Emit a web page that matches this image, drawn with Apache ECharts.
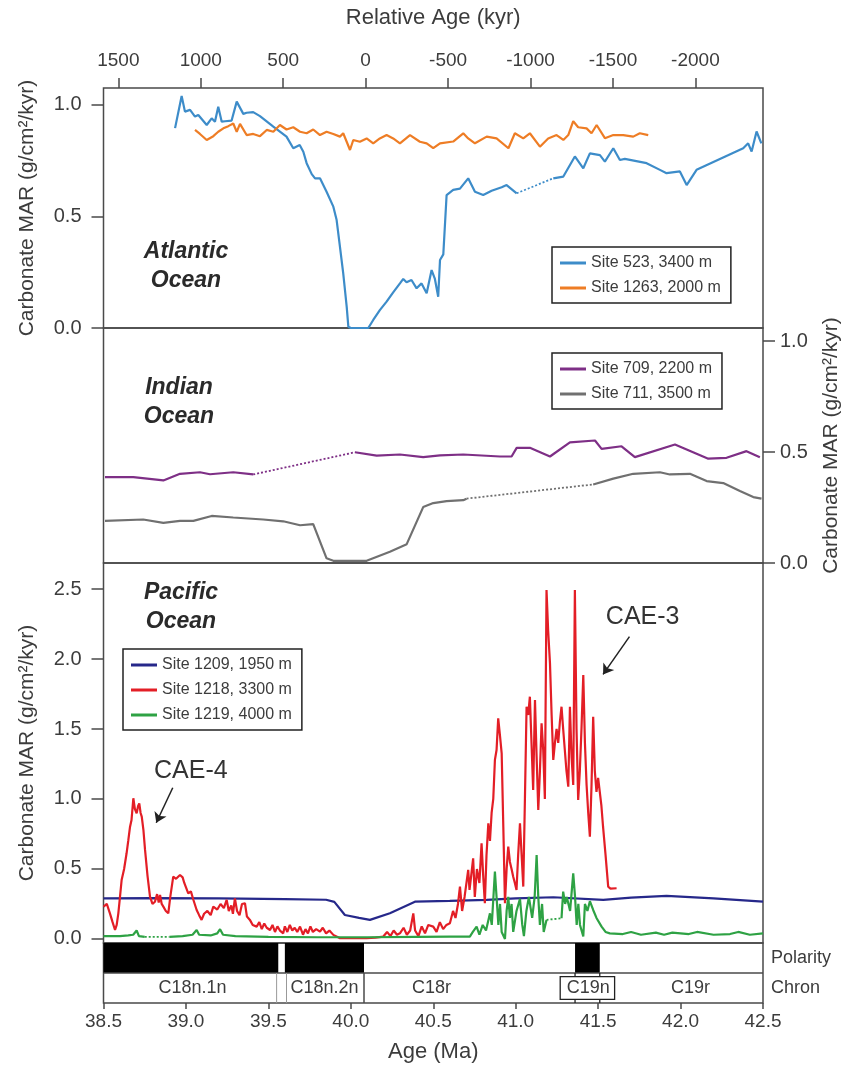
<!DOCTYPE html>
<html>
<head>
<meta charset="utf-8">
<script src="https://cdn.jsdelivr.net/npm/echarts@6/dist/echarts.min.js"></script>
<style>
html, body { margin: 0; padding: 0; background: #fff; }
#main { width: 848px; height: 1066px; }
</style>
</head>
<body>
<div id="main"></div>
<script>
// age axis (Ma) and relative age ticks (kyr, 0 at the base of C18r)
var ageTicks = [38.5, 39.0, 39.5, 40.0, 40.5, 41.0, 41.5, 42.0, 42.5];
var relAgeTicks = [1500, 1000, 500, 0, -500, -1000, -1500, -2000];
var relAgeZero = 40.09;

// Atlantic Ocean
var site523 = [[38.934,0.896],[38.974,1.04],[38.994,0.97],[39.025,0.978],[39.055,0.948],[39.075,0.955],[39.126,0.91],[39.156,0.94],[39.176,0.925],[39.196,0.992],[39.217,0.925],[39.237,0.927],[39.277,0.93],[39.308,1.015],[39.348,0.96],[39.368,0.965],[39.408,0.968],[39.449,0.95],[39.53,0.903],[39.61,0.858],[39.651,0.806],[39.69,0.82],[39.712,0.79],[39.732,0.739],[39.763,0.69],[39.783,0.671],[39.813,0.671],[39.853,0.611],[39.894,0.544],[39.914,0.484],[39.934,0.365],[39.954,0.245],[39.975,0.096],[39.985,0.006],[40.0,0],[40.106,0],[40.136,0.036],[40.176,0.08],[40.217,0.118],[40.257,0.16],[40.298,0.2],[40.318,0.22],[40.338,0.205],[40.368,0.215],[40.399,0.178],[40.429,0.2],[40.46,0.156],[40.49,0.26],[40.51,0.22],[40.53,0.14],[40.541,0.305],[40.561,0.33],[40.581,0.596],[40.621,0.619],[40.662,0.625],[40.712,0.671],[40.753,0.611],[40.803,0.596],[40.854,0.615],[40.915,0.631],[40.945,0.641],[41.006,0.604],[41.1,null],[41.228,0.671],[41.289,0.679],[41.359,0.769],[41.41,0.716],[41.45,0.783],[41.511,0.775],[41.541,0.746],[41.592,0.806],[41.632,0.753],[41.662,0.758],[41.794,0.739],[41.875,0.709],[41.915,0.694],[41.996,0.702],[42.037,0.641],[42.097,0.709],[42.38,0.806],[42.41,0.828],[42.431,0.791],[42.461,0.881],[42.49,0.828]];
var site1263 = [[39.055,0.888],[39.085,0.87],[39.126,0.843],[39.166,0.86],[39.196,0.88],[39.227,0.895],[39.257,0.905],[39.287,0.917],[39.308,0.88],[39.328,0.915],[39.368,0.865],[39.408,0.87],[39.449,0.86],[39.49,0.888],[39.53,0.88],[39.57,0.91],[39.61,0.89],[39.651,0.9],[39.692,0.88],[39.732,0.873],[39.772,0.89],[39.813,0.865],[39.853,0.88],[39.894,0.87],[39.934,0.858],[39.954,0.873],[39.975,0.835],[39.995,0.798],[40.015,0.843],[40.055,0.835],[40.096,0.85],[40.136,0.828],[40.176,0.85],[40.217,0.865],[40.257,0.85],[40.298,0.828],[40.359,0.865],[40.419,0.835],[40.46,0.828],[40.5,0.806],[40.541,0.828],[40.621,0.836],[40.682,0.873],[40.712,0.85],[40.753,0.828],[40.824,0.858],[40.884,0.85],[40.956,0.806],[40.995,0.873],[41.046,0.85],[41.086,0.873],[41.147,0.813],[41.197,0.85],[41.248,0.865],[41.289,0.843],[41.319,0.865],[41.349,0.927],[41.379,0.9],[41.43,0.895],[41.46,0.873],[41.491,0.91],[41.541,0.851],[41.592,0.865],[41.652,0.865],[41.713,0.858],[41.753,0.873],[41.804,0.865]];

// Indian Ocean
var site709 = [[38.509,0.387],[38.681,0.387],[38.863,0.372],[38.964,0.402],[39.085,0.409],[39.146,0.4],[39.287,0.409],[39.408,0.399],[39.7,null],[40.025,0.499],[40.157,0.484],[40.298,0.489],[40.439,0.477],[40.541,0.485],[40.682,0.489],[40.905,0.48],[40.975,0.48],[41.006,0.519],[41.086,0.519],[41.208,0.48],[41.329,0.544],[41.481,0.552],[41.521,0.514],[41.642,0.526],[41.723,0.477],[41.966,0.534],[42.168,0.47],[42.279,0.474],[42.4,0.504],[42.481,0.477]];
var site711 = [[38.509,0.19],[38.741,0.196],[38.863,0.181],[38.964,0.19],[39.045,0.19],[39.156,0.212],[39.287,0.205],[39.469,0.196],[39.59,0.188],[39.692,0.17],[39.772,0.175],[39.853,0.021],[39.894,0.01],[40.096,0.01],[40.237,0.051],[40.339,0.085],[40.439,0.252],[40.5,0.27],[40.581,0.279],[40.682,0.283],[40.702,0.29],[41.1,null],[41.47,0.354],[41.592,0.38],[41.713,0.402],[41.875,0.409],[41.935,0.399],[42.057,0.402],[42.158,0.369],[42.259,0.36],[42.36,0.324],[42.441,0.297],[42.491,0.29]];

// Pacific Ocean
var site1209 = [[38.5,0.29],[38.8,0.292],[39.2,0.29],[39.6,0.285],[39.85,0.28],[39.9,0.265],[39.964,0.171],[40.05,0.15],[40.116,0.136],[40.237,0.184],[40.389,0.266],[40.6,0.272],[40.824,0.279],[41.0,0.29],[41.228,0.298],[41.531,0.279],[41.7,0.295],[41.915,0.307],[42.2,0.29],[42.5,0.266]];
var site1218 = [[38.5,0.23],[38.52,0.25],[38.539,0.183],[38.555,0.12],[38.57,0.064],[38.58,0.1],[38.59,0.183],[38.6,0.3],[38.61,0.421],[38.625,0.5],[38.64,0.612],[38.65,0.7],[38.661,0.802],[38.67,0.85],[38.681,1.005],[38.69,0.93],[38.701,0.898],[38.71,0.95],[38.717,0.969],[38.725,0.9],[38.732,0.874],[38.742,0.78],[38.752,0.636],[38.767,0.45],[38.782,0.302],[38.797,0.25],[38.812,0.266],[38.825,0.32],[38.835,0.26],[38.843,0.314],[38.853,0.25],[38.863,0.231],[38.878,0.2],[38.893,0.183],[38.905,0.3],[38.923,0.445],[38.94,0.43],[38.964,0.457],[38.98,0.44],[38.99,0.4],[39.014,0.326],[39.03,0.34],[39.045,0.28],[39.065,0.207],[39.08,0.17],[39.095,0.136],[39.11,0.18],[39.13,0.2],[39.15,0.17],[39.166,0.231],[39.19,0.21],[39.21,0.25],[39.23,0.22],[39.247,0.279],[39.26,0.2],[39.275,0.24],[39.285,0.18],[39.297,0.29],[39.31,0.2],[39.325,0.17],[39.34,0.25],[39.358,0.255],[39.37,0.16],[39.388,0.136],[39.405,0.1],[39.429,0.088],[39.445,0.12],[39.46,0.07],[39.475,0.11],[39.49,0.08],[39.51,0.064],[39.525,0.1],[39.54,0.05],[39.555,0.09],[39.57,0.06],[39.59,0.04],[39.6,0.09],[39.615,0.05],[39.63,0.1],[39.645,0.06],[39.66,0.08],[39.675,0.05],[39.692,0.088],[39.71,0.03],[39.725,0.07],[39.74,0.04],[39.755,0.09],[39.77,0.05],[39.79,0.07],[39.813,0.052],[39.83,0.08],[39.85,0.04],[39.87,0.06],[39.894,0.029],[39.91,0.02],[39.934,0.005],[40.0,0.005],[40.096,0.005],[40.15,0.01],[40.197,0.017],[40.22,0.05],[40.24,0.02],[40.26,0.06],[40.28,0.03],[40.298,0.04],[40.32,0.08],[40.34,0.03],[40.36,0.06],[40.379,0.183],[40.39,0.06],[40.41,0.02],[40.43,0.09],[40.45,0.04],[40.47,0.1],[40.5,0.088],[40.52,0.05],[40.54,0.12],[40.56,0.07],[40.58,0.1],[40.601,0.112],[40.62,0.2],[40.635,0.15],[40.65,0.25],[40.662,0.374],[40.675,0.2],[40.69,0.3],[40.712,0.493],[40.72,0.35],[40.73,0.45],[40.742,0.576],[40.752,0.3],[40.765,0.5],[40.78,0.4],[40.793,0.683],[40.803,0.45],[40.813,0.255],[40.823,0.6],[40.834,0.826],[40.844,0.7],[40.854,0.9],[40.864,1.0],[40.874,1.279],[40.884,1.35],[40.894,1.576],[40.905,1.45],[40.915,1.326],[40.925,0.8],[40.935,0.255],[40.945,0.5],[40.955,0.659],[40.965,0.55],[40.975,0.5],[40.985,0.445],[40.995,0.4],[41.005,0.35],[41.015,0.6],[41.026,0.826],[41.036,0.6],[41.046,0.374],[41.056,1.0],[41.066,1.659],[41.076,1.6],[41.086,1.731],[41.096,1.4],[41.106,1.064],[41.117,1.707],[41.127,1.3],[41.137,0.921],[41.147,1.2],[41.157,1.54],[41.167,1.35],[41.177,1.0],[41.187,2.493],[41.197,2.2],[41.208,1.969],[41.218,1.6],[41.228,1.279],[41.238,1.4],[41.248,1.5],[41.258,1.4],[41.268,1.55],[41.278,1.659],[41.288,1.5],[41.298,1.35],[41.308,1.2],[41.319,1.088],[41.329,1.659],[41.339,1.3],[41.349,1.1],[41.359,2.493],[41.369,1.5],[41.379,0.993],[41.389,1.2],[41.399,1.5],[41.41,1.886],[41.42,1.4],[41.43,1.1],[41.44,0.9],[41.45,0.731],[41.46,1.1],[41.47,1.588],[41.48,1.2],[41.49,1.05],[41.5,1.15],[41.511,1.159],[41.52,0.95],[41.53,0.8],[41.545,0.6],[41.561,0.374],[41.575,0.36],[41.612,0.362]];
var site1219 = [[38.5,0.02],[38.6,0.02],[38.65,0.025],[38.68,0.03],[38.701,0.06],[38.715,0.02],[38.75,0.015],[38.8,null],[38.9,0.015],[38.98,0.02],[39.04,0.03],[39.065,0.064],[39.08,0.03],[39.15,0.025],[39.19,0.04],[39.207,0.07],[39.225,0.03],[39.3,0.02],[39.5,0.015],[39.8,0.012],[40.1,0.012],[40.4,0.015],[40.6,0.017],[40.722,0.017],[40.74,0.05],[40.763,0.088],[40.78,0.03],[40.8,0.1],[40.82,0.06],[40.844,0.183],[40.855,0.1],[40.874,0.481],[40.884,0.3],[40.895,0.1],[40.905,0.25],[40.915,0.05],[40.935,0.0],[40.945,0.2],[40.955,0.3],[40.965,0.15],[40.975,0.25],[40.985,0.05],[41.005,0.2],[41.026,0.286],[41.04,0.1],[41.05,0.02],[41.065,0.2],[41.08,0.3],[41.1,0.15],[41.115,0.3],[41.127,0.6],[41.137,0.3],[41.147,0.1],[41.16,0.25],[41.17,0.05],[41.187,0.136],[41.23,null],[41.278,0.148],[41.288,0.338],[41.3,0.25],[41.31,0.3],[41.33,0.2],[41.349,0.469],[41.36,0.3],[41.37,0.1],[41.38,0.25],[41.39,0.1],[41.41,0.017],[41.42,0.25],[41.435,0.2],[41.45,0.27],[41.47,0.207],[41.49,0.15],[41.521,0.088],[41.545,0.05],[41.571,0.04],[41.65,0.035],[41.7,0.05],[41.76,0.03],[41.85,0.045],[41.9,0.03],[41.95,0.045],[42.05,0.035],[42.1,0.05],[42.2,0.03],[42.3,0.035],[42.35,0.05],[42.42,0.03],[42.5,0.04]];

// magnetic polarity (normal intervals) and chrons
var normalStart = [38.5, 39.60, 41.36];
var normalEnd = [39.56, 40.08, 41.51];
var chronNames = ['C18n.1n', 'C18n.2n', 'C18r', 'C19n', 'C19r'];
var chronLabelAt = [39.04, 39.84, 40.49, 41.44, 42.06];
var chronBounds = [39.55, 39.61, 40.08];
var c19nBox = [41.27, 41.60];

// annotations
var annotations = [
    { text: 'CAE-4', at: [39.03, 1.2], from: [38.92, 1.08], to: [38.82, 0.83] },
    { text: 'CAE-3', at: [41.77, 2.3], from: [41.69, 2.16], to: [41.53, 1.89] }
];

var font = '"Liberation Sans", Arial, Helvetica, sans-serif';
var textColor = '#3c3c3c';
var frameColor = '#4a4a4a';

function gapLinks(data) {
    var out = [];
    for (var i = 1; i < data.length - 1; i++) {
        if (data[i][1] === null) {
            if (out.length) out.push([data[i - 1][0], null]);
            out.push(data[i - 1], data[i + 1]);
        }
    }
    return out;
}

function fmt1(v) { return (Math.round(v * 10) / 10).toFixed(1); }

var relAgePos = relAgeTicks.map(function (r) { return relAgeZero - r / 1000; });

var chartDom = document.getElementById('main');
var myChart = echarts.init(chartDom);

var gridBase = {
    left: 103.5, right: 85, show: true, borderColor: frameColor, borderWidth: 1.5,
    backgroundColor: 'transparent', containLabel: false, outerBoundsMode: 'none'
};

function hiddenX(idx) {
    return { type: 'value', gridIndex: idx, min: 38.5, max: 42.5, show: false };
}

function marAxis(idx, pos, max, min, labels, gap) {
    return {
        type: 'value', gridIndex: idx, position: pos, min: min, max: max,
        name: 'Carbonate MAR (g/cm²/kyr)', nameLocation: 'middle', nameGap: gap, nameRotate: 90,
        nameTextStyle: { fontSize: 21, color: textColor, fontFamily: font },
        axisLine: { show: false, onZero: false },
        axisTick: { show: true, inside: false, length: 12, customValues: labels, lineStyle: { color: frameColor, width: 1.5 } },
        axisLabel: { customValues: labels, formatter: fmt1, fontSize: 20, color: textColor, fontFamily: font, margin: pos === 'left' ? 22 : 17 },
        splitLine: { show: false }
    };
}

function lineSeries(name, data, color, xi, yi) {
    return {
        name: name, type: 'line', data: data, xAxisIndex: xi, yAxisIndex: yi,
        showSymbol: false, symbol: 'none', connectNulls: false,
        lineStyle: { color: color, width: 2.2 }, itemStyle: { color: color }, z: 3
    };
}

function gapSeries(data, color, xi, yi) {
    return {
        type: 'line', data: gapLinks(data), xAxisIndex: xi, yAxisIndex: yi,
        showSymbol: false, symbol: 'none', connectNulls: false, silent: true,
        lineStyle: { color: color, width: 1.8, type: [2, 2] }, z: 2
    };
}

var legendBase = {
    orient: 'vertical', icon: 'rect', itemWidth: 26, itemHeight: 3, itemGap: 9,
    borderColor: '#222', borderWidth: 1.5, padding: [8, 10, 7, 8],
    textStyle: { fontSize: 16, color: textColor, fontFamily: font },
    backgroundColor: '#fff', selectedMode: false
};

var colors = {
    s523: '#3d8cc9', s1263: '#ee7d25', s709: '#7e2f86', s711: '#707070',
    s1209: '#26288a', s1218: '#e31e26', s1219: '#2ea244'
};

var option = {
    animation: false,
    textStyle: { fontFamily: font },
    grid: [
        Object.assign({ top: 88, height: 240 }, gridBase),
        Object.assign({ top: 328, height: 235 }, gridBase),
        Object.assign({ top: 563, height: 380 }, gridBase),
        Object.assign({ top: 943, height: 60 }, gridBase)
    ],
    xAxis: [
        {
            type: 'value', gridIndex: 0, position: 'top', min: 38.5, max: 42.5,
            name: 'Relative Age (kyr)', nameLocation: 'middle', nameGap: 59,
            nameTextStyle: { fontSize: 22, color: textColor, fontFamily: font },
            axisLine: { show: false, onZero: false },
            axisTick: { show: true, length: 10, customValues: relAgePos, lineStyle: { color: frameColor, width: 1.5 } },
            axisLabel: {
                customValues: relAgePos, fontSize: 19, color: textColor, fontFamily: font, margin: 18,
                formatter: function (v) { return String(Math.round((relAgeZero - v) * 1000)); }
            },
            splitLine: { show: false }
        },
        hiddenX(1),
        hiddenX(2),
        {
            type: 'value', gridIndex: 3, position: 'bottom', min: 38.5, max: 42.5,
            name: 'Age (Ma)', nameLocation: 'middle', nameGap: 38,
            nameTextStyle: { fontSize: 22, color: textColor, fontFamily: font },
            axisLine: { show: false, onZero: false },
            axisTick: { show: true, length: 6, customValues: ageTicks, lineStyle: { color: frameColor, width: 1.5 } },
            axisLabel: { customValues: ageTicks, formatter: fmt1, fontSize: 19, color: textColor, fontFamily: font, margin: 9 },
            splitLine: { show: false }
        }
    ],
    yAxis: [
        marAxis(0, 'left', 1.076, 0, [0, 0.5, 1.0], 66),
        marAxis(1, 'right', 1.059, 0, [0, 0.5, 1.0], 58),
        marAxis(2, 'left', 2.686, -0.029, [0, 0.5, 1.0, 1.5, 2.0, 2.5], 66),
        {
            type: 'value', gridIndex: 3, position: 'right', min: 0, max: 2,
            axisLine: { show: false, onZero: false }, axisTick: { show: false }, splitLine: { show: false },
            axisLabel: {
                customValues: [0.5, 1.5], margin: 8, fontSize: 18, color: textColor, fontFamily: font,
                formatter: function (v) { return v > 1 ? 'Polarity' : 'Chron'; }
            }
        }
    ],
    legend: [
        Object.assign({ data: ['Site 523, 3400 m', 'Site 1263, 2000 m'], left: 552, top: 247 }, legendBase),
        Object.assign({ data: ['Site 709, 2200 m', 'Site 711, 3500 m'], left: 552, top: 353 }, legendBase),
        Object.assign({ data: ['Site 1209, 1950 m', 'Site 1218, 3300 m', 'Site 1219, 4000 m'], left: 123, top: 649 }, legendBase)
    ],
    series: [
        lineSeries('Site 523, 3400 m', site523, colors.s523, 0, 0),
        gapSeries(site523, colors.s523, 0, 0),
        lineSeries('Site 1263, 2000 m', site1263, colors.s1263, 0, 0),
        lineSeries('Site 709, 2200 m', site709, colors.s709, 1, 1),
        gapSeries(site709, colors.s709, 1, 1),
        lineSeries('Site 711, 3500 m', site711, colors.s711, 1, 1),
        gapSeries(site711, colors.s711, 1, 1),
        lineSeries('Site 1209, 1950 m', site1209, colors.s1209, 2, 2),
        Object.assign(lineSeries('Site 1218, 3300 m', site1218, colors.s1218, 2, 2), {
            markLine: {
                silent: true, symbol: ['none', 'arrow'], symbolSize: 10,
                lineStyle: { color: '#222', width: 1.5, type: 'solid' },
                label: { show: false },
                data: annotations.map(function (a) { return [{ coord: a.from }, { coord: a.to }]; })
            }
        }),
        lineSeries('Site 1219, 4000 m', site1219, colors.s1219, 2, 2),
        gapSeries(site1219, colors.s1219, 2, 2),
        {
            type: 'custom', xAxisIndex: 3, yAxisIndex: 3, silent: true,
            data: normalStart.map(function (s, i) { return [s, normalEnd[i]]; }),
            encode: { x: [0, 1] },
            renderItem: function (params, api) {
                var a = api.coord([api.value(0), 2]);
                var b = api.coord([api.value(1), 1]);
                return { type: 'rect', shape: { x: a[0], y: a[1], width: b[0] - a[0], height: b[1] - a[1] }, style: { fill: '#000' } };
            }
        },
        {
            type: 'custom', xAxisIndex: 3, yAxisIndex: 3, silent: true,
            data: chronNames.map(function (n, i) { return [chronLabelAt[i], i]; }),
            encode: { x: 0 },
            renderItem: function (params, api) {
                var p = api.coord([api.value(0), 0.5]);
                return {
                    type: 'text', x: p[0], y: p[1],
                    style: { text: chronNames[api.value(1)], fill: textColor, font: '18px ' + font, align: 'center', verticalAlign: 'middle' }
                };
            }
        },
        {
            type: 'custom', xAxisIndex: 3, yAxisIndex: 3, silent: true,
            data: [[38.5]],
            encode: { x: 0 },
            renderItem: function (params, api) {
                var kids = [];
                var l = api.coord([38.5, 1]), r = api.coord([42.5, 1]);
                kids.push({ type: 'line', shape: { x1: l[0], y1: l[1], x2: r[0], y2: r[1] }, style: { stroke: frameColor, lineWidth: 1.5 } });
                chronBounds.forEach(function (b, i) {
                    var t = api.coord([b, 1]), d = api.coord([b, 0]);
                    kids.push({ type: 'line', shape: { x1: t[0], y1: t[1], x2: d[0], y2: d[1] },
                        style: { stroke: i < 2 ? '#999' : frameColor, lineWidth: i < 2 ? 1 : 1.5 } });
                });
                var bt = api.coord([c19nBox[0], 0.88]), bb = api.coord([c19nBox[1], 0.12]);
                kids.push({ type: 'rect', shape: { x: bt[0], y: bt[1], width: bb[0] - bt[0], height: bb[1] - bt[1] },
                    style: { fill: 'none', stroke: '#222', lineWidth: 1.3 } });
                [normalStart[2], normalEnd[2]].forEach(function (b) {
                    var p1 = api.coord([b, 1]), p2 = api.coord([b, 0.88]), p3 = api.coord([b, 0.12]), p4 = api.coord([b, 0]);
                    kids.push({ type: 'line', shape: { x1: p1[0], y1: p1[1], x2: p2[0], y2: p2[1] }, style: { stroke: '#222', lineWidth: 1.3 } });
                    kids.push({ type: 'line', shape: { x1: p3[0], y1: p3[1], x2: p4[0], y2: p4[1] }, style: { stroke: '#222', lineWidth: 1.3 } });
                });
                return { type: 'group', children: kids };
            }
        }
    ]
};

option && myChart.setOption(option);

// ocean labels and event labels
var oceanText = { fill: '#2a2a2a', font: 'italic bold 23px ' + font, align: 'center', lineHeight: 29 };
var graphics = [
    { type: 'text', x: 186, y: 237, style: Object.assign({ text: 'Atlantic\nOcean' }, oceanText) },
    { type: 'text', x: 179, y: 373, style: Object.assign({ text: 'Indian\nOcean' }, oceanText) },
    { type: 'text', x: 181, y: 578, style: Object.assign({ text: 'Pacific\nOcean' }, oceanText) }
];
annotations.forEach(function (a) {
    var p = myChart.convertToPixel({ xAxisIndex: 2, yAxisIndex: 2 }, a.at);
    graphics.push({ type: 'text', x: p[0], y: p[1], style: { text: a.text, fill: '#333', font: '25px ' + font, align: 'center', verticalAlign: 'middle' } });
});
myChart.setOption({ graphic: graphics });
</script>
</body>
</html>
